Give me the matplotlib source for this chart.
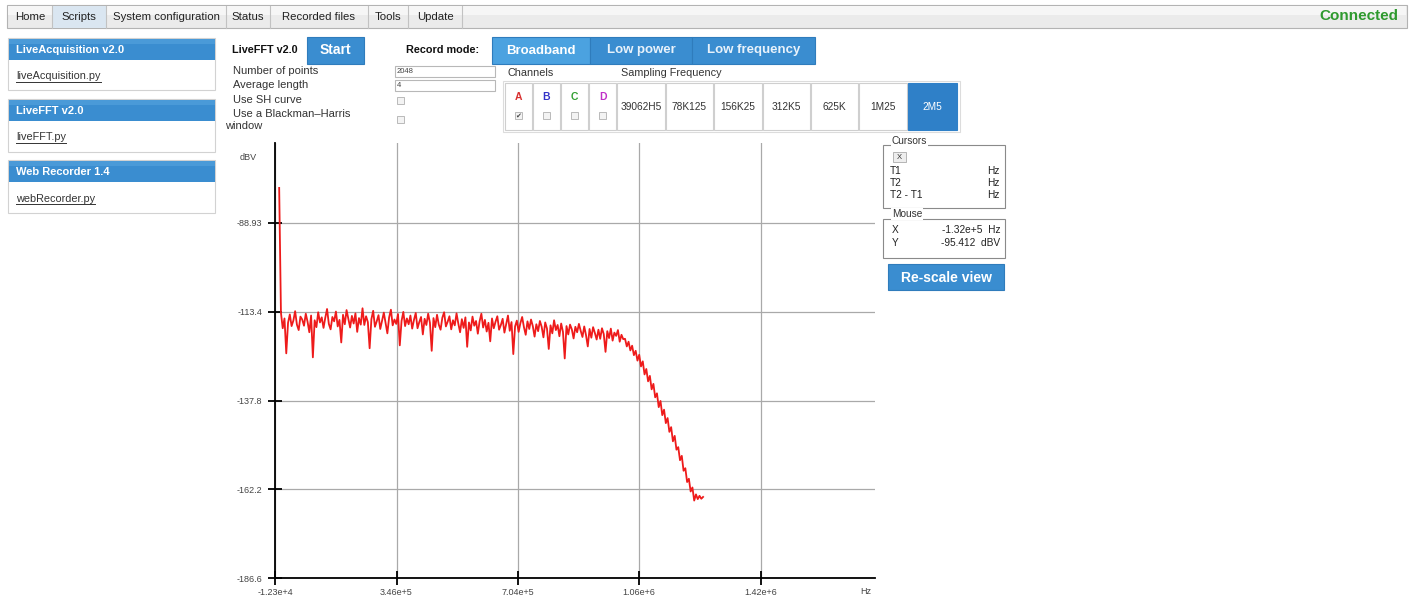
import matplotlib
matplotlib.use("Agg")

import matplotlib.pyplot as plt
from matplotlib.patches import Rectangle
import numpy as np

plt.rcParams["font.family"] = ["Liberation Sans", "DejaVu Sans"]

# spectrum trace (dBV), bins evenly spaced from 0 to Nyquist
freq_start = 0.0
freq_stop = 1.25e6
dbv = [
    -79.3,
    -113.6, -117.9, -115.2, -124.8, -116.4, -114.1, -117.3, -115.8, -113.2, -116.9, -118.4, -114.7,
    -115.5, -117.2, -113.9, -116.1, -119.0, -114.4, -125.9, -115.7, -117.6, -113.5, -116.3, -114.9,
    -117.8, -115.0, -112.6, -116.7, -118.2, -114.8, -116.0, -113.3, -117.4, -115.6, -121.8, -114.2,
    -116.8, -112.9, -115.3, -117.7, -114.5, -116.6, -113.8, -118.9, -115.1, -116.9, -112.4, -117.0,
    -114.6, -116.2, -123.4, -115.4, -113.1, -117.5, -116.0, -114.3, -118.1, -115.8, -113.6, -116.5,
    -119.3, -114.9, -112.8, -117.1, -115.5, -116.7, -114.0, -122.6, -115.9, -113.4, -117.3, -115.2,
    -116.8, -114.4, -118.0, -115.6, -113.7, -117.9, -116.2, -114.8, -119.6, -115.3, -117.0, -113.9,
    -116.4, -124.1, -115.1, -117.6, -114.2, -116.9, -118.3, -115.0, -113.5, -117.4, -116.1, -114.6,
    -118.2, -115.7, -117.1, -113.8, -116.6, -119.0, -115.4, -117.8, -114.9, -123.0, -116.3, -118.5,
    -114.7, -117.2, -115.9, -119.4, -116.0, -113.9, -117.7, -115.6, -118.8, -116.4, -121.5, -115.2,
    -117.9, -116.1, -114.6, -118.3, -117.0, -115.3, -119.1, -116.7, -114.4, -118.6, -116.2, -125.0,
    -117.4, -115.8, -118.9, -116.5, -114.8, -117.6, -119.7, -116.0, -118.1, -115.5, -117.3, -120.2,
    -116.8, -118.7, -115.9, -117.5, -120.4, -116.3, -118.0, -123.6, -117.1, -119.3, -115.7, -118.4,
    -117.0, -120.1, -116.6, -118.9, -126.2, -117.3, -119.6, -116.9, -118.2, -120.7, -117.5, -119.0,
    -116.7, -118.6, -120.3, -117.4, -119.8, -122.9, -118.1, -120.5, -117.6, -119.2, -121.0, -118.3,
    -120.8, -117.9, -119.5, -124.4, -118.7, -120.6, -118.0, -121.3, -119.1, -120.0, -118.4, -121.6,
    -119.7, -120.9,
    -120.8, -122.9, -121.6, -124.0, -122.7, -125.3, -124.1, -126.8, -125.2, -128.4, -127.0, -130.6,
    -129.1, -132.5, -131.0, -134.7, -133.2, -136.9, -135.8, -139.6, -137.9, -141.8, -140.3, -144.0,
    -142.6, -146.4, -145.1, -149.0, -147.5, -151.3, -150.6, -154.2, -153.0, -157.1, -156.4, -160.2,
    -159.3, -162.8, -161.7, -165.3, -163.6, -164.9, -164.0, -164.8, -164.3,
]

x_ticks = [-1.23e4, 3.46e5, 7.04e5, 1.06e6, 1.42e6]
x_tick_labels = ["-1.23e+4", "3.46e+5", "7.04e+5", "1.06e+6", "1.42e+6"]
y_ticks = [-186.6, -162.2, -137.8, -113.4, -88.93]
y_tick_labels = ["-186.6", "-162.2", "-137.8", "-113.4", "-88.93"]
x_min, x_max = -1.23e4, 1.757e6
y_min, y_max = -186.6, -66.94

# page text
nav_tabs = ["Home", "Scripts", "System configuration", "Status", "Recorded files", "Tools", "Update"]
script_titles = ["LiveAcquisition v2.0", "LiveFFT v2.0", "Web Recorder 1.4"]
script_files = ["liveAcquisition.py", "liveFFT.py", "webRecorder.py"]
record_modes = ["Broadband", "Low power", "Low frequency"]
option_labels = ["Number of points", "Average length", "Use SH curve", "Use a Blackman\u2013Harris"]
option_values = ["2048", "4"]
channels = ["A", "B", "C", "D"]
channel_colors = ["#d83030", "#3434c8", "#34a034", "#c030c8"]
sample_rates = ["39062H5", "78K125", "156K25", "312K5", "625K", "1M25", "2M5"]
cursor_rows = ["T1", "T2", "T2 - T1"]
mouse_x = "-1.32e+5  Hz"
mouse_y = "-95.412  dBV"

BLUE = "#3a8dd0"

fig = plt.figure(figsize=(14.14, 6.0), dpi=100)
ui = fig.add_axes([0, 0, 1, 1])
ui.set_xlim(0, 1414)
ui.set_ylim(600, 0)
ui.axis("off")


def box(x0, y0, x1, y1, fc="white", ec="#c8c8c8", lw=0.8):
    ui.add_patch(Rectangle((x0, y0), x1 - x0, y1 - y0, facecolor=fc, edgecolor=ec, linewidth=lw))


def txt(x, y, s, size=8, color="#333333", weight="normal", ha="left", **kw):
    return ui.text(x, y, s, fontsize=size, color=color, fontweight=weight, ha=ha, va="center", **kw)


renderer = fig.canvas.get_renderer()


def underline(t, color="#333333"):
    bb = t.get_window_extent(renderer=renderer)
    (x0, y0), (x1, y1) = ui.transData.inverted().transform([[bb.x0, bb.y0], [bb.x1, bb.y1]])
    ui.plot([x0, x1], [y0 + 0.5, y0 + 0.5], color=color, lw=0.7)


# nav bar
box(7, 5, 1407, 28, fc="#ebebeb", ec="#b3b3b3")
box(8, 6, 1406, 15, fc="#f6f6f6", ec="none")
tab_edges = [8, 52, 106, 226, 270, 368, 408, 462]
box(tab_edges[1], 6, tab_edges[2], 27.5, fc="#dae6f1", ec="none")
for i, name in enumerate(nav_tabs):
    txt((tab_edges[i] + tab_edges[i + 1]) / 2, 16.5, name, size=8.2, color="#222222", ha="center")
for e in tab_edges[1:]:
    ui.plot([e, e], [6, 27.5], color="#c2c2c2", lw=0.8)
txt(1398, 16.5, "Connected", size=11, color="#2f9a2f", weight="bold", ha="right")

# left script panels
panel_rows = [(38, 60, 90), (99, 121, 152), (160, 182, 213)]
for (y0, y1, y2), title, fname in zip(panel_rows, script_titles, script_files):
    box(8, y0, 215, y2, fc="white", ec="#d2d2d2")
    box(8.5, y0 + 0.5, 214.5, y1, fc=BLUE, ec="none")
    box(8.5, y0 + 0.5, 214.5, y0 + 6, fc="#4a9ad8", ec="none")
    txt(16, (y0 + y1) / 2 + 1, title, size=8, color="white", weight="bold")
    t = txt(16, (y1 + y2) / 2 + 1, fname, size=7.8, color="#333333")
    underline(t)

# top controls
txt(232, 50, "LiveFFT v2.0", size=7.8, color="#111111", weight="bold")
box(307, 37, 364, 64, fc=BLUE, ec="#2f7cbc")
txt(335.5, 50.5, "Start", size=10, color="white", weight="bold", ha="center")
txt(406, 50, "Record mode:", size=7.8, color="#111111", weight="bold")
mode_edges = [492, 590, 692, 815]
for i, name in enumerate(record_modes):
    fc = "#4ba2e0" if i == 0 else BLUE
    box(mode_edges[i], 37, mode_edges[i + 1], 64, fc=fc, ec="#2f7cbc")
    txt((mode_edges[i] + mode_edges[i + 1]) / 2, 50.5, name, size=9.5,
        color="white" if i == 0 else "#e8f2fb", weight="bold", ha="center")

option_y = [71, 85, 100, 114]
for y, label in zip(option_y, option_labels):
    txt(233, y, label, size=8, color="#333333")
txt(225, 126, "window", size=8, color="#333333")
for y, val in zip(option_y[:2], option_values):
    box(395, y - 5, 495, y + 5.5, fc="white", ec="#b8b8b8")
    txt(397, y + 0.5, val, size=5.5, color="#444444")
for y in [100, 119]:
    box(397, y - 3.5, 404, y + 3.5, fc="#f3f3f3", ec="#b0b0b0", lw=0.6)

txt(507, 73, "Channels", size=7.8, color="#333333")
txt(621, 73, "Sampling Frequency", size=7.8, color="#333333")
box(503, 81, 960, 132, fc="white", ec="#dcdcdc")
ch_edges = [505, 533, 561, 589, 617]
for i, (ch, col) in enumerate(zip(channels, channel_colors)):
    box(ch_edges[i], 83, ch_edges[i + 1] - 1, 130, fc="white", ec="#cfcfcf")
    cx = (ch_edges[i] + ch_edges[i + 1] - 1) / 2
    txt(cx, 97, ch, size=7.5, color=col, weight="bold", ha="center")
    box(cx - 3.5, 111.5, cx + 3.5, 118.5, fc="#f3f3f3", ec="#b0b0b0", lw=0.6)
    if i == 0:
        txt(cx, 115.5, "\u2714", size=5, color="#444444", ha="center", family=["DejaVu Sans"])
sr_edges = [617, 666, 714, 763, 811, 859, 908, 958]
for i, name in enumerate(sample_rates):
    last = i == len(sample_rates) - 1
    box(sr_edges[i], 83, sr_edges[i + 1] - 1, 130, fc="#2f80c8" if last else "white",
        ec="#2f80c8" if last else "#cfcfcf")
    txt((sr_edges[i] + sr_edges[i + 1] - 1) / 2, 107, name, size=7.3,
        color="white" if last else "#333333", ha="center")

# cursors / mouse readout
box(883, 145, 1005, 208, fc="white", ec="#8a8a8a")
txt(892, 141, "Cursors", size=7.3, color="#333333", bbox=dict(fc="white", ec="none", pad=0.5))
box(893, 152, 906, 162, fc="#eeeeee", ec="#aaaaaa", lw=0.6)
txt(899.5, 157.5, "X", size=5.5, color="#333333", ha="center")
for y, row in zip([171, 183, 195], cursor_rows):
    txt(890, y, row, size=7.3, color="#222222")
    txt(1000, y, "Hz", size=7.3, color="#222222", ha="right")
box(883, 219, 1005, 258, fc="white", ec="#8a8a8a")
txt(892, 214, "Mouse", size=7.3, color="#333333", bbox=dict(fc="white", ec="none", pad=0.5))
txt(892, 230, "X", size=7.3, color="#222222")
txt(1000, 230, mouse_x, size=7.3, color="#222222", ha="right")
txt(892, 243, "Y", size=7.3, color="#222222")
txt(1000, 243, mouse_y, size=7.3, color="#222222", ha="right")
box(888, 264, 1004, 290, fc=BLUE, ec="#2f7cbc")
txt(946, 277.5, "Re-scale view", size=10, color="white", weight="bold", ha="center")

# axis unit labels
txt(248, 158, "dBV", size=6.5, color="#444444", ha="center")
txt(866, 592, "Hz", size=6.5, color="#444444", ha="center")

# spectrum plot
freqs = np.linspace(freq_start, freq_stop, len(dbv))
ax = fig.add_axes([275 / 1414, 22 / 600, 600 / 1414, 435 / 600])
ax.set_facecolor("none")
ax.plot(freqs, dbv, color="#ee1b1b", lw=1.3, zorder=3)
ax.set_xlim(x_min, x_max)
ax.set_ylim(y_min, y_max)
ax.set_xticks(x_ticks, x_tick_labels)
ax.set_yticks(y_ticks, y_tick_labels)
ax.grid(True, color="#a9a9a9", lw=0.9, zorder=0)
ax.spines["top"].set_visible(False)
ax.spines["right"].set_visible(False)
ax.spines["left"].set_linewidth(1.3)
ax.spines["bottom"].set_linewidth(1.3)
ax.tick_params(direction="inout", length=10, width=1.3, labelsize=6.5,
               labelcolor="#444444")
ax.tick_params(axis="y", pad=4)
ax.tick_params(axis="x", pad=2)

fig.savefig("out.png", dpi=100, facecolor="white")
